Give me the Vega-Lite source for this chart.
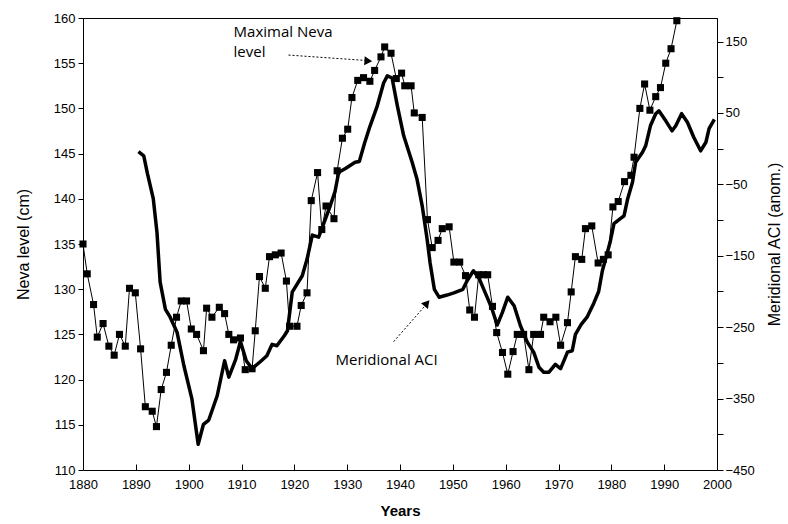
{
  "$schema": "https://vega.github.io/schema/vega-lite/v6.json",
  "autosize": {"type": "none"},
  "width": 634,
  "height": 452,
  "padding": {"left": 83, "top": 18, "right": 71, "bottom": 54},
  "background": "white",
  "config": {
    "font": "Liberation Sans",
    "view": {"stroke": "black", "strokeWidth": 1},
    "axis": {"grid": false, "domainColor": "black", "tickColor": "black", "labelColor": "black", "titleColor": "black", "labelFontSize": 13, "labelFont": "Liberation Sans", "titleFont": "Liberation Sans", "titleFontWeight": "normal", "titleFontSize": 17, "domainWidth": 1, "tickWidth": 1, "ticks": true}
  },
  "datasets": {
    "neva": [
      {"year": 1880.0, "neva": 135.0}, {"year": 1880.8, "neva": 131.7}, {"year": 1882.0, "neva": 128.3}, {"year": 1882.7, "neva": 124.7},
      {"year": 1883.8, "neva": 126.2}, {"year": 1884.9, "neva": 123.7}, {"year": 1885.9, "neva": 122.7}, {"year": 1886.9, "neva": 125.0},
      {"year": 1888.0, "neva": 123.7}, {"year": 1888.8, "neva": 130.1}, {"year": 1889.9, "neva": 129.6}, {"year": 1890.9, "neva": 123.4},
      {"year": 1891.8, "neva": 117.0}, {"year": 1893.1, "neva": 116.5}, {"year": 1893.9, "neva": 114.8}, {"year": 1894.8, "neva": 118.9},
      {"year": 1895.8, "neva": 120.8}, {"year": 1896.7, "neva": 123.8}, {"year": 1897.7, "neva": 126.9}, {"year": 1898.6, "neva": 128.7},
      {"year": 1899.6, "neva": 128.7}, {"year": 1900.5, "neva": 125.6}, {"year": 1901.5, "neva": 125.0}, {"year": 1902.8, "neva": 123.2},
      {"year": 1903.4, "neva": 127.9}, {"year": 1904.4, "neva": 126.9}, {"year": 1905.8, "neva": 128.0}, {"year": 1906.8, "neva": 127.3},
      {"year": 1907.6, "neva": 125.0}, {"year": 1908.5, "neva": 124.4}, {"year": 1909.8, "neva": 124.6}, {"year": 1910.7, "neva": 121.1},
      {"year": 1912.0, "neva": 121.2}, {"year": 1912.6, "neva": 125.4}, {"year": 1913.4, "neva": 131.4}, {"year": 1914.5, "neva": 130.1},
      {"year": 1915.3, "neva": 133.6}, {"year": 1916.4, "neva": 133.8}, {"year": 1917.5, "neva": 134.0}, {"year": 1918.5, "neva": 130.9},
      {"year": 1919.1, "neva": 125.9}, {"year": 1920.5, "neva": 125.9}, {"year": 1921.3, "neva": 128.2}, {"year": 1922.4, "neva": 129.6},
      {"year": 1923.2, "neva": 139.8}, {"year": 1924.4, "neva": 142.9}, {"year": 1925.2, "neva": 136.6}, {"year": 1926.0, "neva": 139.2},
      {"year": 1927.5, "neva": 137.8}, {"year": 1928.1, "neva": 143.1}, {"year": 1929.1, "neva": 146.7}, {"year": 1930.1, "neva": 147.7},
      {"year": 1930.9, "neva": 151.2}, {"year": 1932.0, "neva": 153.1}, {"year": 1933.1, "neva": 153.4}, {"year": 1934.3, "neva": 153.0},
      {"year": 1935.2, "neva": 154.2}, {"year": 1936.4, "neva": 155.7}, {"year": 1937.1, "neva": 156.8}, {"year": 1938.3, "neva": 156.1},
      {"year": 1939.3, "neva": 153.3}, {"year": 1940.3, "neva": 153.9}, {"year": 1940.9, "neva": 152.5}, {"year": 1942.1, "neva": 152.5},
      {"year": 1942.7, "neva": 149.5}, {"year": 1944.2, "neva": 149.0}, {"year": 1945.2, "neva": 137.7}, {"year": 1946.1, "neva": 134.6},
      {"year": 1947.2, "neva": 135.4}, {"year": 1948.0, "neva": 136.7}, {"year": 1949.3, "neva": 136.9}, {"year": 1950.2, "neva": 133.0},
      {"year": 1951.3, "neva": 133.0}, {"year": 1952.4, "neva": 131.5}, {"year": 1953.2, "neva": 127.7}, {"year": 1954.1, "neva": 126.9},
      {"year": 1954.9, "neva": 131.6}, {"year": 1955.8, "neva": 131.6}, {"year": 1956.6, "neva": 131.6}, {"year": 1957.5, "neva": 128.1},
      {"year": 1958.3, "neva": 125.2}, {"year": 1959.4, "neva": 123.0}, {"year": 1960.4, "neva": 120.6}, {"year": 1961.4, "neva": 123.1},
      {"year": 1962.2, "neva": 125.0}, {"year": 1963.4, "neva": 125.0}, {"year": 1964.4, "neva": 121.1}, {"year": 1965.3, "neva": 125.0},
      {"year": 1966.6, "neva": 125.0}, {"year": 1967.2, "neva": 126.9}, {"year": 1968.4, "neva": 126.4}, {"year": 1969.5, "neva": 126.9},
      {"year": 1970.4, "neva": 123.8}, {"year": 1971.7, "neva": 126.3}, {"year": 1972.4, "neva": 129.7}, {"year": 1973.2, "neva": 133.6},
      {"year": 1974.4, "neva": 133.3}, {"year": 1975.1, "neva": 136.7}, {"year": 1976.3, "neva": 137.0}, {"year": 1977.5, "neva": 132.9},
      {"year": 1978.5, "neva": 133.3}, {"year": 1979.4, "neva": 133.8}, {"year": 1980.3, "neva": 139.1}, {"year": 1981.3, "neva": 139.7},
      {"year": 1982.5, "neva": 141.9}, {"year": 1983.7, "neva": 142.6}, {"year": 1984.3, "neva": 144.6}, {"year": 1985.4, "neva": 150.0},
      {"year": 1986.3, "neva": 152.7}, {"year": 1987.3, "neva": 149.8}, {"year": 1988.4, "neva": 151.3}, {"year": 1989.3, "neva": 152.3},
      {"year": 1990.3, "neva": 155.0}, {"year": 1991.3, "neva": 156.6}, {"year": 1992.4, "neva": 159.7}
    ],
    "aci": [
      {"year": 1890.5, "aci": -4}, {"year": 1891.5, "aci": -10}, {"year": 1892.2, "aci": -35}, {"year": 1893.3, "aci": -70},
      {"year": 1894.0, "aci": -117}, {"year": 1894.6, "aci": -187}, {"year": 1895.6, "aci": -225}, {"year": 1896.5, "aci": -236},
      {"year": 1897.8, "aci": -257}, {"year": 1899.1, "aci": -304}, {"year": 1900.6, "aci": -350}, {"year": 1901.8, "aci": -414},
      {"year": 1902.8, "aci": -386}, {"year": 1903.8, "aci": -380}, {"year": 1905.4, "aci": -346}, {"year": 1906.8, "aci": -297},
      {"year": 1907.6, "aci": -320}, {"year": 1908.9, "aci": -295}, {"year": 1909.8, "aci": -270}, {"year": 1910.9, "aci": -297},
      {"year": 1912.0, "aci": -308}, {"year": 1913.6, "aci": -298}, {"year": 1914.8, "aci": -290}, {"year": 1915.8, "aci": -274},
      {"year": 1916.7, "aci": -276}, {"year": 1918.1, "aci": -262}, {"year": 1918.7, "aci": -255}, {"year": 1919.6, "aci": -201},
      {"year": 1920.5, "aci": -190}, {"year": 1921.5, "aci": -178}, {"year": 1922.4, "aci": -155}, {"year": 1923.4, "aci": -121},
      {"year": 1924.6, "aci": -124}, {"year": 1925.8, "aci": -100}, {"year": 1926.8, "aci": -80}, {"year": 1927.7, "aci": -60},
      {"year": 1928.4, "aci": -33}, {"year": 1929.6, "aci": -28}, {"year": 1931.5, "aci": -19}, {"year": 1932.3, "aci": -18},
      {"year": 1933.3, "aci": 8}, {"year": 1934.3, "aci": 31}, {"year": 1935.7, "aci": 60}, {"year": 1936.9, "aci": 92},
      {"year": 1937.6, "aci": 102}, {"year": 1938.5, "aci": 99}, {"year": 1939.5, "aci": 60}, {"year": 1940.7, "aci": 18},
      {"year": 1942.3, "aci": -19}, {"year": 1943.2, "aci": -42}, {"year": 1944.2, "aci": -80}, {"year": 1945.1, "aci": -125},
      {"year": 1945.7, "aci": -160}, {"year": 1946.5, "aci": -197}, {"year": 1947.4, "aci": -208}, {"year": 1948.9, "aci": -205},
      {"year": 1950.2, "aci": -202}, {"year": 1951.9, "aci": -197}, {"year": 1952.7, "aci": -185}, {"year": 1953.9, "aci": -171},
      {"year": 1955.0, "aci": -182}, {"year": 1956.2, "aci": -203}, {"year": 1957.3, "aci": -222}, {"year": 1958.4, "aci": -247},
      {"year": 1959.4, "aci": -229}, {"year": 1960.4, "aci": -208}, {"year": 1961.6, "aci": -220}, {"year": 1962.8, "aci": -248},
      {"year": 1964.1, "aci": -271}, {"year": 1965.3, "aci": -285}, {"year": 1966.3, "aci": -306}, {"year": 1967.2, "aci": -313},
      {"year": 1968.2, "aci": -313}, {"year": 1969.4, "aci": -302}, {"year": 1970.4, "aci": -308}, {"year": 1971.7, "aci": -285},
      {"year": 1972.6, "aci": -283}, {"year": 1973.2, "aci": -260}, {"year": 1974.3, "aci": -246}, {"year": 1975.4, "aci": -236},
      {"year": 1976.7, "aci": -216}, {"year": 1977.6, "aci": -200}, {"year": 1978.3, "aci": -171}, {"year": 1978.9, "aci": -155},
      {"year": 1979.8, "aci": -130}, {"year": 1980.5, "aci": -105}, {"year": 1981.7, "aci": -98}, {"year": 1982.4, "aci": -94},
      {"year": 1983.1, "aci": -70}, {"year": 1984.0, "aci": -47}, {"year": 1984.6, "aci": -19}, {"year": 1985.9, "aci": -5},
      {"year": 1986.5, "aci": 4}, {"year": 1987.4, "aci": 32}, {"year": 1988.4, "aci": 49}, {"year": 1989.0, "aci": 53},
      {"year": 1990.3, "aci": 39}, {"year": 1991.5, "aci": 25}, {"year": 1992.2, "aci": 32}, {"year": 1993.3, "aci": 49},
      {"year": 1994.4, "aci": 37}, {"year": 1995.6, "aci": 16}, {"year": 1996.9, "aci": -3}, {"year": 1997.9, "aci": 9},
      {"year": 1998.5, "aci": 28}, {"year": 1999.5, "aci": 41}
    ],
    "labels": [
      {"year": 1908.5, "neva": 157.9, "label": "Maximal Neva"},
      {"year": 1908.5, "neva": 155.7, "label": "level"},
      {"year": 1927.8, "neva": 121.6, "label": "Meridional ACI"}
    ],
    "arrows": [
      {"year": 1918.9, "neva": 155.9, "year2": 1933.6, "neva2": 155.3},
      {"year": 1938.8, "neva": 124.2, "year2": 1944.8, "neva2": 128.2}
    ]
  },
  "layer": [
    {
      "encoding": {
        "x": {"field": "year", "type": "quantitative", "scale": {"domain": [1880, 2000], "nice": false, "zero": false},
          "axis": {"title": "Years", "titleFont": "Liberation Sans", "titleFontWeight": "bold", "titleFontSize": 15, "titlePadding": 12,
            "values": [1880,1885,1890,1895,1900,1905,1910,1915,1920,1925,1930,1935,1940,1945,1950,1955,1960,1965,1970,1975,1980,1985,1990,1995,2000],
            "format": "d", "labelExpr": "datum.value % 10 === 0 ? datum.label : ''", "domain": false, "offset": -6, "tickSize": 6, "tickWidth": 1, "labelPadding": 8, "labelFlush": false, "labelOverlap": false}},
        "y": {"field": "neva", "type": "quantitative", "scale": {"domain": [110, 160], "nice": false, "zero": false},
          "axis": {"orient": "left", "title": "Neva level (cm)", "titleFontSize": 16, "values": [110,115,120,125,130,135,140,145,150,155,160], "tickSize": 5, "labelPadding": 3, "titlePadding": 22}}
      },
      "layer": [
        {"data": {"name": "neva"}, "mark": {"type": "line", "color": "black", "strokeWidth": 1}},
        {"data": {"name": "neva"}, "mark": {"type": "point", "shape": "square", "filled": true, "color": "black", "opacity": 1, "size": 50}},
        {"data": {"name": "labels"}, "mark": {"type": "text", "align": "left", "baseline": "alphabetic", "font": "Open Sans", "fontSize": 15, "color": "black"},
          "encoding": {"text": {"field": "label"}}},
        {"data": {"name": "arrows"}, "mark": {"type": "rule", "color": "black", "strokeWidth": 1, "strokeDash": [2, 2]},
          "encoding": {"x2": {"field": "year2"}, "y2": {"field": "neva2"}}},
        {"data": {"values": [{"year": 1934.0, "neva": 155.25}]}, "mark": {"type": "point", "shape": "triangle-right", "filled": true, "color": "black", "opacity": 1, "size": 80, "angle": 4}},
        {"data": {"values": [{"year": 1945.1, "neva": 128.45}]}, "mark": {"type": "point", "shape": "triangle-right", "filled": true, "color": "black", "opacity": 1, "size": 80, "angle": 310}}
      ]
    },
    {
      "data": {"name": "aci"},
      "mark": {"type": "line", "color": "black", "strokeWidth": 3.5, "strokeJoin": "round"},
      "encoding": {
        "x": {"field": "year", "type": "quantitative"},
        "y": {"field": "aci", "type": "quantitative", "scale": {"domain": [-450, 183], "nice": false, "zero": false},
          "axis": {"orient": "right", "title": "Meridional ACI (anom.)", "titleAngle": 270, "titleFontSize": 16, "values": [-450,-400,-350,-300,-250,-200,-150,-100,-50,0,50,100,150],
            "labelExpr": "(datum.value + 450) % 100 === 0 ? datum.label : ''", "tickSize": 6, "labelPadding": 2, "titlePadding": 28}}
      }
    }
  ],
  "resolve": {"scale": {"y": "independent"}}
}
